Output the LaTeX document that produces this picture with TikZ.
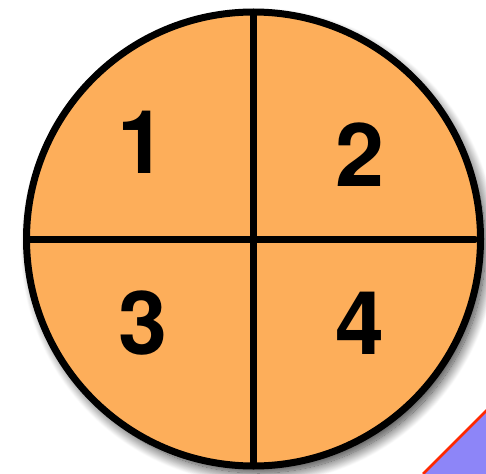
\documentclass[tikz,border=0pt]{standalone}
\usepackage{fontspec}
\setmainfont{TeX Gyre Heros}
\usetikzlibrary{shadows.blur}
\definecolor{pieorange}{RGB}{253,174,90}
\definecolor{cornerblue}{RGB}{141,133,248}
\definecolor{cornerred}{RGB}{255,40,0}
\tikzset{
  quarter/.style={font=\fontsize{88}{88}\selectfont\bfseries, inner sep=0pt, anchor=center},
  divider/.style={line width=7pt, black, line cap=round}
}
\begin{document}
\begin{tikzpicture}[x=1pt, y=-1pt]
\useasboundingbox (0,0) rectangle (486,473);
\fill[cornerblue] (423,474) -- (487,410) -- (487,474) -- cycle;
\draw[cornerred, line width=2.5pt] (423,474) -- (487,410);
\node[circle, draw=black, line width=7pt, fill=pieorange, minimum size=454pt, inner sep=0pt, outer sep=0pt,
  blur shadow={shadow xshift=5pt, shadow yshift=-7pt, shadow blur radius=11pt, shadow opacity=80, shadow blur steps=20}] (pie) at (253.5,239) {};
\coordinate (vtop) at (253.5,14);
\coordinate (vbot) at (253.5,464);
\coordinate (hl) at (30,239);
\coordinate (hr) at (475,239);
\draw[divider, line cap=butt] (vtop) -- (vbot);
\draw[divider] (hl) -- (hr);
\node[quarter] (n1) at (142,142) {1};
\node[quarter] (n2) at (360,155) {2};
\node[quarter] (n3) at (143,323) {3};
\node[quarter] (n4) at (360,323) {4};
\end{tikzpicture}
\end{document}
